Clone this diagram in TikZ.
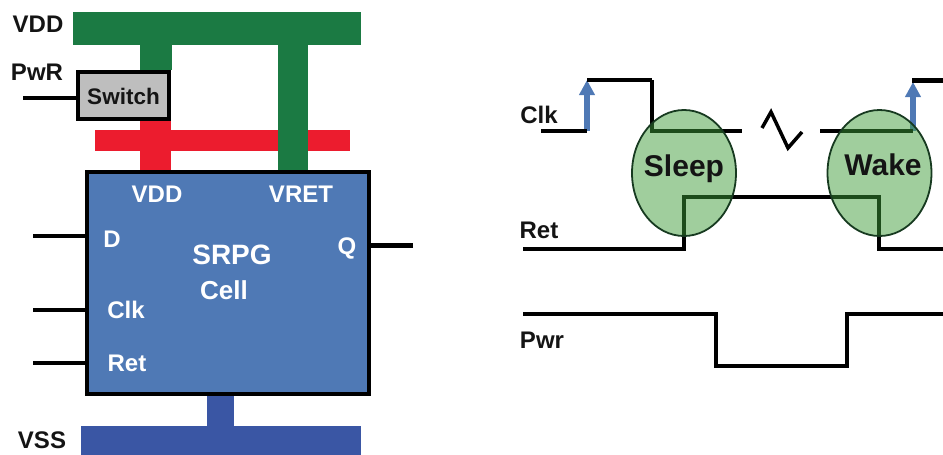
\documentclass[tikz,border=0pt]{standalone}
\usepackage{fontspec}
\setmainfont{Liberation Sans}
\usetikzlibrary{arrows.meta,shapes.geometric}
\definecolor{railgreen}{HTML}{1B7A43}
\definecolor{railred}{HTML}{EC1C2E}
\definecolor{cellblue}{HTML}{4F79B5}
\definecolor{railnavy}{HTML}{3A56A4}
\definecolor{swgray}{HTML}{BEBEBE}
\definecolor{ink}{HTML}{141414}
\definecolor{bubble}{HTML}{3D9C38}
\definecolor{bubbleline}{HTML}{173A20}
\tikzset{
  rail/.style={rectangle,inner sep=0pt,outer sep=0pt,draw=none},
  lab/.style={font=\fontsize{24}{24}\selectfont\bfseries,text=ink,inner sep=0pt,anchor=center},
  wlab/.style={lab,text=white},
  statelab/.style={lab,font=\fontsize{30}{30}\selectfont\bfseries},
  wire/.style={draw=black,line width=4pt,line join=miter},
  sig/.style={draw=black,line width=4pt,line join=miter},
  thin sig/.style={draw=black,line width=3.5pt,line join=miter},
  edge/.style={draw=cellblue,line width=6pt,-{Triangle[length=15pt,width=15pt]}},
  state/.style={ellipse,draw=bubbleline,line width=1.8pt,fill=bubble,fill opacity=0.49,inner sep=0pt,outer sep=0pt,minimum width=104pt,minimum height=126pt},
}
\begin{document}
\begin{tikzpicture}[x=1pt,y=-1pt]
\useasboundingbox (0,0) rectangle (943,455);
% left: power rails
\node[rail,fill=railgreen,minimum width=288pt,minimum height=33pt] (vddbar) at (217,28.5) {};
\node[rail,fill=railred,minimum width=255pt,minimum height=21pt] (retbar) at (222.5,140.5) {};
\node[rail,fill=railnavy,minimum width=280pt,minimum height=29pt] (vssbar) at (221,440.5) {};
\node[rectangle,draw=black,line width=4pt,fill=cellblue,inner sep=0pt,outer sep=0pt,minimum width=282pt,minimum height=222pt] (cell) at (228,283) {};
\node[rectangle,draw=black,line width=4pt,fill=swgray,inner sep=0pt,outer sep=0pt,minimum width=91pt,minimum height=47pt] (switch) at (123.5,95.5) {};
\node[lab,font=\fontsize{22.5}{24}\selectfont\bfseries] (switchlab) at (123.5,96.5) {Switch};
\coordinate (gA) at (156,45);
\coordinate (gB) at (156,70);
\coordinate (rA) at (155.5,121);
\coordinate (rB) at (155.5,170);
\coordinate (vA) at (293,45);
\coordinate (vB) at (293,170);
\coordinate (sA) at (220.5,396);
\coordinate (sB) at (220.5,426);
\draw[railgreen,line width=32pt] (gA) -- (gB);
\draw[railred,line width=31pt] (rA) -- (rB);
\draw[railgreen,line width=30pt] (vA) -- (vB);
\draw[railnavy,line width=27pt] (sA) -- (sB);
% pins
\coordinate (pwrEnd) at (23,98);
\coordinate (dEnd) at (33,236);
\coordinate (clkEnd) at (33,310);
\coordinate (retEnd) at (33,363);
\coordinate (qEnd) at (413,245);
\draw[wire] (pwrEnd) -- (pwrEnd -| switch.west);
\draw[wire] (dEnd) -- (dEnd -| cell.west);
\draw[wire] (clkEnd) -- (clkEnd -| cell.west);
\draw[wire] (retEnd) -- (retEnd -| cell.west);
\draw[wire,line width=5pt] (qEnd) -- (qEnd -| cell.east);
% left labels
\node[lab] (lvdd) at (38,24) {VDD};
\node[lab] (lpwr) at (37,72) {PwR};
\node[lab] (lvss) at (42,440) {VSS};
\node[wlab] (cvdd) at (157,194) {VDD};
\node[wlab] (cvret) at (301,194) {VRET};
\node[wlab] (cd) at (112,239) {D};
\node[wlab] (cq) at (347,248) {Q};
\node[wlab] (cclk) at (126,310) {Clk};
\node[wlab] (cret) at (127,363) {Ret};
\node[wlab,font=\fontsize{28}{28}\selectfont\bfseries] (csrpg) at (232,255) {SRPG};
\node[wlab,font=\fontsize{26}{26}\selectfont\bfseries] (ccell) at (224,290) {Cell};
% right: timing
\coordinate (c0) at (541,131);
\coordinate (c1) at (587,131);
\coordinate (c2) at (587,80);
\coordinate (c3) at (652,80);
\coordinate (c4) at (652,131);
\coordinate (c5) at (742,131);
\coordinate (c6) at (820,131);
\coordinate (c7) at (913,131);
\coordinate (c8) at (912,80);
\coordinate (c9) at (943,80);
\coordinate (a1) at (587,80);
\coordinate (a2) at (913,82);
\coordinate (r0) at (523,249);
\coordinate (r1) at (684,249);
\coordinate (r2) at (684,197);
\coordinate (r3) at (879,197);
\coordinate (r4) at (879,249);
\coordinate (r5) at (943,249);
\coordinate (p0) at (523,314);
\coordinate (p1) at (716,314);
\coordinate (p2) at (716,366);
\coordinate (p3) at (847,366);
\coordinate (p4) at (847,314);
\coordinate (p5) at (943,314);
\coordinate (z0) at (762,128);
\coordinate (z1) at (771,112);
\coordinate (z2) at (788,148);
\coordinate (z3) at (802,132);
\draw[edge] (c1) -- (a1);
\draw[edge] (c7) -- (a2);
\draw[sig] (c0) -- (c1);
\draw[thin sig] (c2) -- (c3);
\draw[sig] (c3) -- (c4) -- (c5);
\draw[thin sig] (z0) -- (z1) -- (z2) -- (z3);
\draw[sig] (c6) -- (c7);
\draw[sig,line width=5pt] (c8) -- (c9);
\draw[sig] (r0) -- (r1) -- (r2) -- (r3) -- (r4) -- (r5);
\draw[sig] (p0) -- (p1) -- (p2) -- (p3) -- (p4) -- (p5);
\node[state] (sleep) at (684,173) {};
\node[state] (wake) at (879.5,173) {};
\node[statelab] (sleeplab) at (684,169) {Sleep};
\node[statelab] (wakelab) at (883,165) {Wake};
\node[lab] (tclk) at (539,115) {Clk};
\node[lab] (tret) at (539,230) {Ret};
\node[lab] (tpwr) at (542,340) {Pwr};
\end{tikzpicture}
\end{document}
